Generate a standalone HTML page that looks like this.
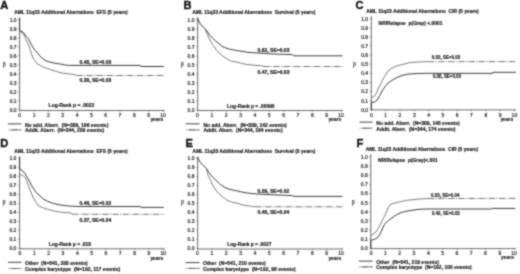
<!DOCTYPE html>
<html><head><meta charset="utf-8"><style>
html,body{margin:0;padding:0;background:#fff;width:520px;height:274px;overflow:hidden}
#w{position:absolute;left:0;top:0;width:520px;height:274px;will-change:transform}
svg{display:block}
text{white-space:pre;stroke:#222;stroke-width:0.2px;paint-order:stroke}
</style></head><body><div id="w">
<svg width="520" height="274" viewBox="0 0 520 274">
<defs><filter id="bl" x="0" y="0" width="520" height="274" filterUnits="userSpaceOnUse" color-interpolation-filters="sRGB"><feConvolveMatrix order="3" kernelMatrix="0.05 0.1 0.05 0.1 0.4 0.1 0.05 0.1 0.05" edgeMode="duplicate"/></filter></defs>
<g filter="url(#bl)"><rect width="520" height="274" fill="#fff"/>
<text transform="translate(0.20,8.50) scale(1.06,1)" font-size="10.5" font-weight="bold" fill="#111" style="stroke:#111;stroke-width:0.35px" font-family='"Liberation Sans", sans-serif'>A</text>
<text x="14.20" y="13.85" font-size="4.9" font-weight="bold" fill="#222" font-family='"Liberation Sans", sans-serif' textLength="113.50" lengthAdjust="spacingAndGlyphs">AML 11q23 Additional Aberrations  EFS (5 years)</text>
<path d="M19.6,17.7 V110.5 H164.8" fill="none" stroke="#646464" stroke-width="0.95"/>
<path d="M18.3,109.80 H19.6" stroke="#646464" stroke-width="0.8"/>
<text x="16.60" y="111.64" font-size="5.0" font-weight="normal" fill="#2a2a2a" font-family='"Liberation Sans", sans-serif' text-anchor="end">0.0</text>
<path d="M18.3,100.81 H19.6" stroke="#646464" stroke-width="0.8"/>
<text x="16.60" y="102.65" font-size="5.0" font-weight="normal" fill="#2a2a2a" font-family='"Liberation Sans", sans-serif' text-anchor="end">0.1</text>
<path d="M18.3,91.82 H19.6" stroke="#646464" stroke-width="0.8"/>
<text x="16.60" y="93.66" font-size="5.0" font-weight="normal" fill="#2a2a2a" font-family='"Liberation Sans", sans-serif' text-anchor="end">0.2</text>
<path d="M18.3,82.83 H19.6" stroke="#646464" stroke-width="0.8"/>
<text x="16.60" y="84.67" font-size="5.0" font-weight="normal" fill="#2a2a2a" font-family='"Liberation Sans", sans-serif' text-anchor="end">0.3</text>
<path d="M18.3,73.84 H19.6" stroke="#646464" stroke-width="0.8"/>
<text x="16.60" y="75.68" font-size="5.0" font-weight="normal" fill="#2a2a2a" font-family='"Liberation Sans", sans-serif' text-anchor="end">0.4</text>
<path d="M18.3,64.85 H19.6" stroke="#646464" stroke-width="0.8"/>
<text x="16.60" y="66.69" font-size="5.0" font-weight="normal" fill="#2a2a2a" font-family='"Liberation Sans", sans-serif' text-anchor="end">0.5</text>
<path d="M18.3,55.86 H19.6" stroke="#646464" stroke-width="0.8"/>
<text x="16.60" y="57.70" font-size="5.0" font-weight="normal" fill="#2a2a2a" font-family='"Liberation Sans", sans-serif' text-anchor="end">0.6</text>
<path d="M18.3,46.87 H19.6" stroke="#646464" stroke-width="0.8"/>
<text x="16.60" y="48.71" font-size="5.0" font-weight="normal" fill="#2a2a2a" font-family='"Liberation Sans", sans-serif' text-anchor="end">0.7</text>
<path d="M18.3,37.88 H19.6" stroke="#646464" stroke-width="0.8"/>
<text x="16.60" y="39.72" font-size="5.0" font-weight="normal" fill="#2a2a2a" font-family='"Liberation Sans", sans-serif' text-anchor="end">0.8</text>
<path d="M18.3,28.89 H19.6" stroke="#646464" stroke-width="0.8"/>
<text x="16.60" y="30.73" font-size="5.0" font-weight="normal" fill="#2a2a2a" font-family='"Liberation Sans", sans-serif' text-anchor="end">0.9</text>
<path d="M18.3,19.90 H19.6" stroke="#646464" stroke-width="0.8"/>
<text x="16.60" y="21.74" font-size="5.0" font-weight="normal" fill="#2a2a2a" font-family='"Liberation Sans", sans-serif' text-anchor="end">1.0</text>
<path d="M19.74,110.5 V111.7" stroke="#646464" stroke-width="0.8"/>
<text x="19.74" y="116.69" font-size="5.0" font-weight="normal" fill="#2a2a2a" font-family='"Liberation Sans", sans-serif' text-anchor="middle">0</text>
<path d="M34.06,110.5 V111.7" stroke="#646464" stroke-width="0.8"/>
<text x="34.06" y="116.69" font-size="5.0" font-weight="normal" fill="#2a2a2a" font-family='"Liberation Sans", sans-serif' text-anchor="middle">1</text>
<path d="M48.38,110.5 V111.7" stroke="#646464" stroke-width="0.8"/>
<text x="48.38" y="116.69" font-size="5.0" font-weight="normal" fill="#2a2a2a" font-family='"Liberation Sans", sans-serif' text-anchor="middle">2</text>
<path d="M62.70,110.5 V111.7" stroke="#646464" stroke-width="0.8"/>
<text x="62.70" y="116.69" font-size="5.0" font-weight="normal" fill="#2a2a2a" font-family='"Liberation Sans", sans-serif' text-anchor="middle">3</text>
<path d="M77.02,110.5 V111.7" stroke="#646464" stroke-width="0.8"/>
<text x="77.02" y="116.69" font-size="5.0" font-weight="normal" fill="#2a2a2a" font-family='"Liberation Sans", sans-serif' text-anchor="middle">4</text>
<path d="M91.34,110.5 V111.7" stroke="#646464" stroke-width="0.8"/>
<text x="91.34" y="116.69" font-size="5.0" font-weight="normal" fill="#2a2a2a" font-family='"Liberation Sans", sans-serif' text-anchor="middle">5</text>
<path d="M105.66,110.5 V111.7" stroke="#646464" stroke-width="0.8"/>
<text x="105.66" y="116.69" font-size="5.0" font-weight="normal" fill="#2a2a2a" font-family='"Liberation Sans", sans-serif' text-anchor="middle">6</text>
<path d="M119.98,110.5 V111.7" stroke="#646464" stroke-width="0.8"/>
<text x="119.98" y="116.69" font-size="5.0" font-weight="normal" fill="#2a2a2a" font-family='"Liberation Sans", sans-serif' text-anchor="middle">7</text>
<path d="M134.30,110.5 V111.7" stroke="#646464" stroke-width="0.8"/>
<text x="134.30" y="116.69" font-size="5.0" font-weight="normal" fill="#2a2a2a" font-family='"Liberation Sans", sans-serif' text-anchor="middle">8</text>
<path d="M148.62,110.5 V111.7" stroke="#646464" stroke-width="0.8"/>
<text x="148.62" y="116.69" font-size="5.0" font-weight="normal" fill="#2a2a2a" font-family='"Liberation Sans", sans-serif' text-anchor="middle">9</text>
<path d="M162.94,110.5 V111.7" stroke="#646464" stroke-width="0.8"/>
<text x="162.94" y="116.69" font-size="5.0" font-weight="normal" fill="#2a2a2a" font-family='"Liberation Sans", sans-serif' text-anchor="middle">10</text>
<text x="163.20" y="121.25" font-size="4.9" font-weight="bold" fill="#2a2a2a" font-family='"Liberation Sans", sans-serif' text-anchor="end">years</text>
<text transform="translate(2.7,66.1) scale(0.8,1)" font-size="6.3" font-weight="bold" fill="#363636" style="stroke:none" font-family='"Liberation Sans", sans-serif'>p</text>
<polyline points="19.60,17.70 19.60,30.50 20.70,30.90 22.90,32.00 24.60,33.70 26.20,36.40 28.40,38.60 30.00,41.90 31.70,45.20 33.80,48.80 36.60,52.10 39.90,55.90 43.10,59.20 46.40,60.90 49.70,62.00 54.10,63.10 59.80,63.90 64.60,64.80 68.50,65.40 140.50,65.40 141.00,66.50 163.80,66.50" fill="none" stroke="#333" stroke-width="0.95" stroke-linejoin="round"/>
<polyline points="19.60,31.50 20.70,32.00 22.40,33.10 24.00,35.30 25.70,38.60 27.30,42.40 29.00,46.30 30.60,50.60 32.20,55.90 34.40,60.30 37.70,64.20 40.90,65.80 44.20,67.40 47.50,68.50 51.90,70.20 56.30,71.30 58.80,72.30 62.70,73.10 67.50,73.75 72.30,74.20 76.20,75.00" fill="none" stroke="#5a5a5a" stroke-width="0.8" stroke-linejoin="round"/>
<polyline points="76.20,75.50 163.80,75.50" fill="none" stroke="#505050" stroke-width="0.8" stroke-dasharray="6.4,1.3,1.1,1.3"/>
<text x="79.50" y="64.09" font-size="5.0" font-weight="bold" fill="#222" font-family='"Liberation Sans", sans-serif'>0.48, SE=0.03</text>
<text x="79.50" y="82.39" font-size="5.0" font-weight="bold" fill="#222" font-family='"Liberation Sans", sans-serif'>0.38, SE=0.03</text>
<text x="48.60" y="107.39" font-size="5.0" font-weight="bold" fill="#222" font-family='"Liberation Sans", sans-serif'>Log-Rank p = .0022</text>
<path d="M8.0,123.9 H21.3" stroke="#4a4a4a" stroke-width="1.05"/>
<path d="M8.0,129.9 H21.3" stroke="#aaa" stroke-width="1.0"/>
<path d="M11.3,129.9 H21.3" stroke="#666" stroke-width="1.0" stroke-dasharray="6.7,1,1.1,0.8,1,1"/>
<text x="25.00" y="126.89" font-size="5.0" font-weight="bold" fill="#222" font-family='"Liberation Sans", sans-serif'>No add. Aberr.  (N=389, 196 events)</text>
<text x="25.00" y="132.49" font-size="5.0" font-weight="bold" fill="#222" font-family='"Liberation Sans", sans-serif'>Addit. Aberr.  (N=344, 209 events)</text>
<text transform="translate(183.40,8.90) scale(1.06,1)" font-size="10.5" font-weight="bold" fill="#111" style="stroke:#111;stroke-width:0.35px" font-family='"Liberation Sans", sans-serif'>B</text>
<text x="192.30" y="14.25" font-size="4.9" font-weight="bold" fill="#222" font-family='"Liberation Sans", sans-serif' textLength="123.10" lengthAdjust="spacingAndGlyphs">AML 11q23 Additional Aberrations  Survival (5 years)</text>
<path d="M197.7,17.7 V110.5 H343.2" fill="none" stroke="#646464" stroke-width="0.95"/>
<path d="M196.39999999999998,109.80 H197.7" stroke="#646464" stroke-width="0.8"/>
<text x="194.50" y="111.64" font-size="5.0" font-weight="normal" fill="#2a2a2a" font-family='"Liberation Sans", sans-serif' text-anchor="end">0.0</text>
<path d="M196.39999999999998,100.81 H197.7" stroke="#646464" stroke-width="0.8"/>
<text x="194.50" y="102.65" font-size="5.0" font-weight="normal" fill="#2a2a2a" font-family='"Liberation Sans", sans-serif' text-anchor="end">0.1</text>
<path d="M196.39999999999998,91.82 H197.7" stroke="#646464" stroke-width="0.8"/>
<text x="194.50" y="93.66" font-size="5.0" font-weight="normal" fill="#2a2a2a" font-family='"Liberation Sans", sans-serif' text-anchor="end">0.2</text>
<path d="M196.39999999999998,82.83 H197.7" stroke="#646464" stroke-width="0.8"/>
<text x="194.50" y="84.67" font-size="5.0" font-weight="normal" fill="#2a2a2a" font-family='"Liberation Sans", sans-serif' text-anchor="end">0.3</text>
<path d="M196.39999999999998,73.84 H197.7" stroke="#646464" stroke-width="0.8"/>
<text x="194.50" y="75.68" font-size="5.0" font-weight="normal" fill="#2a2a2a" font-family='"Liberation Sans", sans-serif' text-anchor="end">0.4</text>
<path d="M196.39999999999998,64.85 H197.7" stroke="#646464" stroke-width="0.8"/>
<text x="194.50" y="66.69" font-size="5.0" font-weight="normal" fill="#2a2a2a" font-family='"Liberation Sans", sans-serif' text-anchor="end">0.5</text>
<path d="M196.39999999999998,55.86 H197.7" stroke="#646464" stroke-width="0.8"/>
<text x="194.50" y="57.70" font-size="5.0" font-weight="normal" fill="#2a2a2a" font-family='"Liberation Sans", sans-serif' text-anchor="end">0.6</text>
<path d="M196.39999999999998,46.87 H197.7" stroke="#646464" stroke-width="0.8"/>
<text x="194.50" y="48.71" font-size="5.0" font-weight="normal" fill="#2a2a2a" font-family='"Liberation Sans", sans-serif' text-anchor="end">0.7</text>
<path d="M196.39999999999998,37.88 H197.7" stroke="#646464" stroke-width="0.8"/>
<text x="194.50" y="39.72" font-size="5.0" font-weight="normal" fill="#2a2a2a" font-family='"Liberation Sans", sans-serif' text-anchor="end">0.8</text>
<path d="M196.39999999999998,28.89 H197.7" stroke="#646464" stroke-width="0.8"/>
<text x="194.50" y="30.73" font-size="5.0" font-weight="normal" fill="#2a2a2a" font-family='"Liberation Sans", sans-serif' text-anchor="end">0.9</text>
<path d="M196.39999999999998,19.90 H197.7" stroke="#646464" stroke-width="0.8"/>
<text x="194.50" y="21.74" font-size="5.0" font-weight="normal" fill="#2a2a2a" font-family='"Liberation Sans", sans-serif' text-anchor="end">1.0</text>
<path d="M197.50,110.5 V111.7" stroke="#646464" stroke-width="0.8"/>
<text x="197.50" y="116.79" font-size="5.0" font-weight="normal" fill="#2a2a2a" font-family='"Liberation Sans", sans-serif' text-anchor="middle">0</text>
<path d="M211.85,110.5 V111.7" stroke="#646464" stroke-width="0.8"/>
<text x="211.85" y="116.79" font-size="5.0" font-weight="normal" fill="#2a2a2a" font-family='"Liberation Sans", sans-serif' text-anchor="middle">1</text>
<path d="M226.20,110.5 V111.7" stroke="#646464" stroke-width="0.8"/>
<text x="226.20" y="116.79" font-size="5.0" font-weight="normal" fill="#2a2a2a" font-family='"Liberation Sans", sans-serif' text-anchor="middle">2</text>
<path d="M240.55,110.5 V111.7" stroke="#646464" stroke-width="0.8"/>
<text x="240.55" y="116.79" font-size="5.0" font-weight="normal" fill="#2a2a2a" font-family='"Liberation Sans", sans-serif' text-anchor="middle">3</text>
<path d="M254.90,110.5 V111.7" stroke="#646464" stroke-width="0.8"/>
<text x="254.90" y="116.79" font-size="5.0" font-weight="normal" fill="#2a2a2a" font-family='"Liberation Sans", sans-serif' text-anchor="middle">4</text>
<path d="M269.25,110.5 V111.7" stroke="#646464" stroke-width="0.8"/>
<text x="269.25" y="116.79" font-size="5.0" font-weight="normal" fill="#2a2a2a" font-family='"Liberation Sans", sans-serif' text-anchor="middle">5</text>
<path d="M283.60,110.5 V111.7" stroke="#646464" stroke-width="0.8"/>
<text x="283.60" y="116.79" font-size="5.0" font-weight="normal" fill="#2a2a2a" font-family='"Liberation Sans", sans-serif' text-anchor="middle">6</text>
<path d="M297.95,110.5 V111.7" stroke="#646464" stroke-width="0.8"/>
<text x="297.95" y="116.79" font-size="5.0" font-weight="normal" fill="#2a2a2a" font-family='"Liberation Sans", sans-serif' text-anchor="middle">7</text>
<path d="M312.30,110.5 V111.7" stroke="#646464" stroke-width="0.8"/>
<text x="312.30" y="116.79" font-size="5.0" font-weight="normal" fill="#2a2a2a" font-family='"Liberation Sans", sans-serif' text-anchor="middle">8</text>
<path d="M326.65,110.5 V111.7" stroke="#646464" stroke-width="0.8"/>
<text x="326.65" y="116.79" font-size="5.0" font-weight="normal" fill="#2a2a2a" font-family='"Liberation Sans", sans-serif' text-anchor="middle">9</text>
<path d="M341.00,110.5 V111.7" stroke="#646464" stroke-width="0.8"/>
<text x="341.00" y="116.79" font-size="5.0" font-weight="normal" fill="#2a2a2a" font-family='"Liberation Sans", sans-serif' text-anchor="middle">10</text>
<text x="341.20" y="121.05" font-size="4.9" font-weight="bold" fill="#2a2a2a" font-family='"Liberation Sans", sans-serif' text-anchor="end">years</text>
<text transform="translate(180.8,65.9) scale(0.8,1)" font-size="6.3" font-weight="bold" fill="#363636" style="stroke:none" font-family='"Liberation Sans", sans-serif'>p</text>
<polyline points="197.70,17.70 197.70,18.30 198.80,21.00 200.50,24.30 202.10,26.00 204.30,27.60 205.90,29.80 207.60,32.00 209.80,35.30 212.50,38.00 215.30,40.70 218.00,42.90 221.50,45.90 225.30,47.80 229.20,49.10 235.60,50.30 242.00,51.40 248.00,52.30 258.20,53.00 268.40,53.70 278.70,54.20 292.50,54.50 293.90,55.80 342.50,55.80" fill="none" stroke="#333" stroke-width="0.95" stroke-linejoin="round"/>
<polyline points="205.40,29.80 207.00,33.60 208.70,37.40 210.90,41.80 212.60,44.60 215.80,49.10 218.90,52.90 222.80,56.10 226.60,58.60 231.10,61.20 235.60,61.80 240.70,63.10 245.80,64.40 254.10,65.20 260.30,65.70 263.30,66.00" fill="none" stroke="#5a5a5a" stroke-width="0.8" stroke-linejoin="round"/>
<polyline points="263.30,66.50 342.50,66.50" fill="none" stroke="#505050" stroke-width="0.8" stroke-dasharray="6.4,1.3,1.1,1.3"/>
<text x="257.60" y="52.49" font-size="5.0" font-weight="bold" fill="#222" font-family='"Liberation Sans", sans-serif'>0.62, SE=0.03</text>
<text x="257.60" y="74.19" font-size="5.0" font-weight="bold" fill="#222" font-family='"Liberation Sans", sans-serif'>0.47, SE=0.03</text>
<text x="227.00" y="107.69" font-size="5.0" font-weight="bold" fill="#222" font-family='"Liberation Sans", sans-serif' textLength="47.60" lengthAdjust="spacingAndGlyphs">Log-Rank p = .00090</text>
<path d="M185.7,123.8 H199.5" stroke="#4a4a4a" stroke-width="1.05"/>
<path d="M185.7,129.9 H199.5" stroke="#aaa" stroke-width="1.0"/>
<path d="M189.0,129.9 H199.5" stroke="#666" stroke-width="1.0" stroke-dasharray="6.7,1,1.1,0.8,1,1"/>
<text x="203.40" y="126.79" font-size="5.0" font-weight="bold" fill="#222" font-family='"Liberation Sans", sans-serif'>No add. Aberr.  (N=389, 142 events)</text>
<text x="203.40" y="132.29" font-size="5.0" font-weight="bold" fill="#222" font-family='"Liberation Sans", sans-serif'>Addit. Aberr.  (N=344, 164 events)</text>
<text transform="translate(355.40,9.20) scale(1.06,1)" font-size="10.5" font-weight="bold" fill="#111" style="stroke:#111;stroke-width:0.35px" font-family='"Liberation Sans", sans-serif'>C</text>
<text x="366.20" y="12.65" font-size="4.9" font-weight="bold" fill="#222" font-family='"Liberation Sans", sans-serif' textLength="112.50" lengthAdjust="spacingAndGlyphs">AML 11q23 Additional Aberrations  CIR (5 years)</text>
<path d="M371.3,16.1 V109.9 H516.0" fill="none" stroke="#646464" stroke-width="0.95"/>
<path d="M370.0,109.80 H371.3" stroke="#646464" stroke-width="0.8"/>
<text x="368.10" y="111.64" font-size="5.0" font-weight="normal" fill="#2a2a2a" font-family='"Liberation Sans", sans-serif' text-anchor="end">0.0</text>
<path d="M370.0,100.69 H371.3" stroke="#646464" stroke-width="0.8"/>
<text x="368.10" y="102.53" font-size="5.0" font-weight="normal" fill="#2a2a2a" font-family='"Liberation Sans", sans-serif' text-anchor="end">0.1</text>
<path d="M370.0,91.58 H371.3" stroke="#646464" stroke-width="0.8"/>
<text x="368.10" y="93.42" font-size="5.0" font-weight="normal" fill="#2a2a2a" font-family='"Liberation Sans", sans-serif' text-anchor="end">0.2</text>
<path d="M370.0,82.47 H371.3" stroke="#646464" stroke-width="0.8"/>
<text x="368.10" y="84.31" font-size="5.0" font-weight="normal" fill="#2a2a2a" font-family='"Liberation Sans", sans-serif' text-anchor="end">0.3</text>
<path d="M370.0,73.36 H371.3" stroke="#646464" stroke-width="0.8"/>
<text x="368.10" y="75.20" font-size="5.0" font-weight="normal" fill="#2a2a2a" font-family='"Liberation Sans", sans-serif' text-anchor="end">0.4</text>
<path d="M370.0,64.25 H371.3" stroke="#646464" stroke-width="0.8"/>
<text x="368.10" y="66.09" font-size="5.0" font-weight="normal" fill="#2a2a2a" font-family='"Liberation Sans", sans-serif' text-anchor="end">0.5</text>
<path d="M370.0,55.14 H371.3" stroke="#646464" stroke-width="0.8"/>
<text x="368.10" y="56.98" font-size="5.0" font-weight="normal" fill="#2a2a2a" font-family='"Liberation Sans", sans-serif' text-anchor="end">0.6</text>
<path d="M370.0,46.03 H371.3" stroke="#646464" stroke-width="0.8"/>
<text x="368.10" y="47.87" font-size="5.0" font-weight="normal" fill="#2a2a2a" font-family='"Liberation Sans", sans-serif' text-anchor="end">0.7</text>
<path d="M370.0,36.92 H371.3" stroke="#646464" stroke-width="0.8"/>
<text x="368.10" y="38.76" font-size="5.0" font-weight="normal" fill="#2a2a2a" font-family='"Liberation Sans", sans-serif' text-anchor="end">0.8</text>
<path d="M370.0,27.81 H371.3" stroke="#646464" stroke-width="0.8"/>
<text x="368.10" y="29.65" font-size="5.0" font-weight="normal" fill="#2a2a2a" font-family='"Liberation Sans", sans-serif' text-anchor="end">0.9</text>
<path d="M370.0,18.70 H371.3" stroke="#646464" stroke-width="0.8"/>
<text x="368.10" y="20.54" font-size="5.0" font-weight="normal" fill="#2a2a2a" font-family='"Liberation Sans", sans-serif' text-anchor="end">1.0</text>
<path d="M371.40,109.9 V111.10000000000001" stroke="#646464" stroke-width="0.8"/>
<text x="371.40" y="117.09" font-size="5.0" font-weight="normal" fill="#2a2a2a" font-family='"Liberation Sans", sans-serif' text-anchor="middle">0</text>
<path d="M385.70,109.9 V111.10000000000001" stroke="#646464" stroke-width="0.8"/>
<text x="385.70" y="117.09" font-size="5.0" font-weight="normal" fill="#2a2a2a" font-family='"Liberation Sans", sans-serif' text-anchor="middle">1</text>
<path d="M400.00,109.9 V111.10000000000001" stroke="#646464" stroke-width="0.8"/>
<text x="400.00" y="117.09" font-size="5.0" font-weight="normal" fill="#2a2a2a" font-family='"Liberation Sans", sans-serif' text-anchor="middle">2</text>
<path d="M414.30,109.9 V111.10000000000001" stroke="#646464" stroke-width="0.8"/>
<text x="414.30" y="117.09" font-size="5.0" font-weight="normal" fill="#2a2a2a" font-family='"Liberation Sans", sans-serif' text-anchor="middle">3</text>
<path d="M428.60,109.9 V111.10000000000001" stroke="#646464" stroke-width="0.8"/>
<text x="428.60" y="117.09" font-size="5.0" font-weight="normal" fill="#2a2a2a" font-family='"Liberation Sans", sans-serif' text-anchor="middle">4</text>
<path d="M442.90,109.9 V111.10000000000001" stroke="#646464" stroke-width="0.8"/>
<text x="442.90" y="117.09" font-size="5.0" font-weight="normal" fill="#2a2a2a" font-family='"Liberation Sans", sans-serif' text-anchor="middle">5</text>
<path d="M457.20,109.9 V111.10000000000001" stroke="#646464" stroke-width="0.8"/>
<text x="457.20" y="117.09" font-size="5.0" font-weight="normal" fill="#2a2a2a" font-family='"Liberation Sans", sans-serif' text-anchor="middle">6</text>
<path d="M471.50,109.9 V111.10000000000001" stroke="#646464" stroke-width="0.8"/>
<text x="471.50" y="117.09" font-size="5.0" font-weight="normal" fill="#2a2a2a" font-family='"Liberation Sans", sans-serif' text-anchor="middle">7</text>
<path d="M485.80,109.9 V111.10000000000001" stroke="#646464" stroke-width="0.8"/>
<text x="485.80" y="117.09" font-size="5.0" font-weight="normal" fill="#2a2a2a" font-family='"Liberation Sans", sans-serif' text-anchor="middle">8</text>
<path d="M500.10,109.9 V111.10000000000001" stroke="#646464" stroke-width="0.8"/>
<text x="500.10" y="117.09" font-size="5.0" font-weight="normal" fill="#2a2a2a" font-family='"Liberation Sans", sans-serif' text-anchor="middle">9</text>
<path d="M514.40,109.9 V111.10000000000001" stroke="#646464" stroke-width="0.8"/>
<text x="514.40" y="117.09" font-size="5.0" font-weight="normal" fill="#2a2a2a" font-family='"Liberation Sans", sans-serif' text-anchor="middle">10</text>
<text x="513.20" y="120.95" font-size="4.9" font-weight="bold" fill="#2a2a2a" font-family='"Liberation Sans", sans-serif' text-anchor="end">years</text>
<text transform="translate(352.9,65.8) scale(0.8,1)" font-size="6.3" font-weight="bold" fill="#363636" style="stroke:none" font-family='"Liberation Sans", sans-serif'>p</text>
<polyline points="371.30,110.00 371.30,102.30 374.00,102.30 377.00,100.20 380.00,95.20 382.00,91.20 384.00,88.10 386.00,85.40 388.00,83.10 391.00,80.90 394.10,79.10 397.00,77.50 400.10,76.10 404.00,75.00 408.20,74.10 418.20,73.50 428.00,73.30 492.60,73.40 492.90,72.30 515.80,72.30" fill="none" stroke="#333" stroke-width="0.95" stroke-linejoin="round"/>
<polyline points="371.30,97.50 374.00,96.50 376.00,94.00 378.00,89.10 380.50,84.00 383.00,79.10 385.50,75.00 388.00,71.10 391.00,68.80 394.10,67.00 398.00,65.60 402.10,64.60 406.00,63.50 410.20,62.60 418.20,62.00 428.00,61.60" fill="none" stroke="#5a5a5a" stroke-width="0.8" stroke-linejoin="round"/>
<polyline points="428.00,61.70 515.80,61.60" fill="none" stroke="#505050" stroke-width="0.8" stroke-dasharray="6.4,1.3,1.1,1.3"/>
<text x="431.80" y="58.90" font-size="5.3" font-weight="bold" fill="#222" font-family='"Liberation Sans", sans-serif' textLength="28.40" lengthAdjust="spacingAndGlyphs">0.52, SE=0.03</text>
<text x="432.90" y="78.10" font-size="5.3" font-weight="bold" fill="#222" font-family='"Liberation Sans", sans-serif' textLength="28.10" lengthAdjust="spacingAndGlyphs">0.38, SE=0.03</text>
<text x="378.60" y="24.69" font-size="5.0" font-weight="bold" fill="#222" font-family='"Liberation Sans", sans-serif' textLength="63.80" lengthAdjust="spacingAndGlyphs">NR/Relapse  p(Gray) &lt;.0001</text>
<path d="M359.6,122.1 H372.6" stroke="#4a4a4a" stroke-width="1.05"/>
<path d="M359.6,128.2 H372.6" stroke="#aaa" stroke-width="1.0"/>
<path d="M362.90000000000003,128.2 H372.6" stroke="#666" stroke-width="1.0" stroke-dasharray="6.7,1,1.1,0.8,1,1"/>
<text x="376.30" y="124.89" font-size="5.0" font-weight="bold" fill="#222" font-family='"Liberation Sans", sans-serif'>No add. Aberr.  (N=389, 145 events)</text>
<text x="376.30" y="130.99" font-size="5.0" font-weight="bold" fill="#222" font-family='"Liberation Sans", sans-serif'>Addit. Aberr.  (N=344, 174 events)</text>
<text transform="translate(0.20,147.20) scale(1.06,1)" font-size="10.5" font-weight="bold" fill="#111" style="stroke:#111;stroke-width:0.35px" font-family='"Liberation Sans", sans-serif'>D</text>
<text x="14.20" y="153.15" font-size="4.9" font-weight="bold" fill="#222" font-family='"Liberation Sans", sans-serif' textLength="113.50" lengthAdjust="spacingAndGlyphs">AML 11q23 Additional Aberrations  EFS (5 years)</text>
<path d="M19.6,156.6 V248.8 H164.8" fill="none" stroke="#646464" stroke-width="0.95"/>
<path d="M18.3,248.40 H19.6" stroke="#646464" stroke-width="0.8"/>
<text x="16.40" y="250.24" font-size="5.0" font-weight="normal" fill="#2a2a2a" font-family='"Liberation Sans", sans-serif' text-anchor="end">0.0</text>
<path d="M18.3,239.41 H19.6" stroke="#646464" stroke-width="0.8"/>
<text x="16.40" y="241.25" font-size="5.0" font-weight="normal" fill="#2a2a2a" font-family='"Liberation Sans", sans-serif' text-anchor="end">0.1</text>
<path d="M18.3,230.42 H19.6" stroke="#646464" stroke-width="0.8"/>
<text x="16.40" y="232.26" font-size="5.0" font-weight="normal" fill="#2a2a2a" font-family='"Liberation Sans", sans-serif' text-anchor="end">0.2</text>
<path d="M18.3,221.43 H19.6" stroke="#646464" stroke-width="0.8"/>
<text x="16.40" y="223.27" font-size="5.0" font-weight="normal" fill="#2a2a2a" font-family='"Liberation Sans", sans-serif' text-anchor="end">0.3</text>
<path d="M18.3,212.44 H19.6" stroke="#646464" stroke-width="0.8"/>
<text x="16.40" y="214.28" font-size="5.0" font-weight="normal" fill="#2a2a2a" font-family='"Liberation Sans", sans-serif' text-anchor="end">0.4</text>
<path d="M18.3,203.45 H19.6" stroke="#646464" stroke-width="0.8"/>
<text x="16.40" y="205.29" font-size="5.0" font-weight="normal" fill="#2a2a2a" font-family='"Liberation Sans", sans-serif' text-anchor="end">0.5</text>
<path d="M18.3,194.46 H19.6" stroke="#646464" stroke-width="0.8"/>
<text x="16.40" y="196.30" font-size="5.0" font-weight="normal" fill="#2a2a2a" font-family='"Liberation Sans", sans-serif' text-anchor="end">0.6</text>
<path d="M18.3,185.47 H19.6" stroke="#646464" stroke-width="0.8"/>
<text x="16.40" y="187.31" font-size="5.0" font-weight="normal" fill="#2a2a2a" font-family='"Liberation Sans", sans-serif' text-anchor="end">0.7</text>
<path d="M18.3,176.48 H19.6" stroke="#646464" stroke-width="0.8"/>
<text x="16.40" y="178.32" font-size="5.0" font-weight="normal" fill="#2a2a2a" font-family='"Liberation Sans", sans-serif' text-anchor="end">0.8</text>
<path d="M18.3,167.49 H19.6" stroke="#646464" stroke-width="0.8"/>
<text x="16.40" y="169.33" font-size="5.0" font-weight="normal" fill="#2a2a2a" font-family='"Liberation Sans", sans-serif' text-anchor="end">0.9</text>
<path d="M18.3,158.50 H19.6" stroke="#646464" stroke-width="0.8"/>
<text x="16.40" y="160.34" font-size="5.0" font-weight="normal" fill="#2a2a2a" font-family='"Liberation Sans", sans-serif' text-anchor="end">1.0</text>
<path d="M20.00,248.8 V250.0" stroke="#646464" stroke-width="0.8"/>
<text x="20.00" y="255.19" font-size="5.0" font-weight="normal" fill="#2a2a2a" font-family='"Liberation Sans", sans-serif' text-anchor="middle">0</text>
<path d="M34.32,248.8 V250.0" stroke="#646464" stroke-width="0.8"/>
<text x="34.32" y="255.19" font-size="5.0" font-weight="normal" fill="#2a2a2a" font-family='"Liberation Sans", sans-serif' text-anchor="middle">1</text>
<path d="M48.64,248.8 V250.0" stroke="#646464" stroke-width="0.8"/>
<text x="48.64" y="255.19" font-size="5.0" font-weight="normal" fill="#2a2a2a" font-family='"Liberation Sans", sans-serif' text-anchor="middle">2</text>
<path d="M62.96,248.8 V250.0" stroke="#646464" stroke-width="0.8"/>
<text x="62.96" y="255.19" font-size="5.0" font-weight="normal" fill="#2a2a2a" font-family='"Liberation Sans", sans-serif' text-anchor="middle">3</text>
<path d="M77.28,248.8 V250.0" stroke="#646464" stroke-width="0.8"/>
<text x="77.28" y="255.19" font-size="5.0" font-weight="normal" fill="#2a2a2a" font-family='"Liberation Sans", sans-serif' text-anchor="middle">4</text>
<path d="M91.60,248.8 V250.0" stroke="#646464" stroke-width="0.8"/>
<text x="91.60" y="255.19" font-size="5.0" font-weight="normal" fill="#2a2a2a" font-family='"Liberation Sans", sans-serif' text-anchor="middle">5</text>
<path d="M105.92,248.8 V250.0" stroke="#646464" stroke-width="0.8"/>
<text x="105.92" y="255.19" font-size="5.0" font-weight="normal" fill="#2a2a2a" font-family='"Liberation Sans", sans-serif' text-anchor="middle">6</text>
<path d="M120.24,248.8 V250.0" stroke="#646464" stroke-width="0.8"/>
<text x="120.24" y="255.19" font-size="5.0" font-weight="normal" fill="#2a2a2a" font-family='"Liberation Sans", sans-serif' text-anchor="middle">7</text>
<path d="M134.56,248.8 V250.0" stroke="#646464" stroke-width="0.8"/>
<text x="134.56" y="255.19" font-size="5.0" font-weight="normal" fill="#2a2a2a" font-family='"Liberation Sans", sans-serif' text-anchor="middle">8</text>
<path d="M148.88,248.8 V250.0" stroke="#646464" stroke-width="0.8"/>
<text x="148.88" y="255.19" font-size="5.0" font-weight="normal" fill="#2a2a2a" font-family='"Liberation Sans", sans-serif' text-anchor="middle">9</text>
<path d="M163.20,248.8 V250.0" stroke="#646464" stroke-width="0.8"/>
<text x="163.20" y="255.19" font-size="5.0" font-weight="normal" fill="#2a2a2a" font-family='"Liberation Sans", sans-serif' text-anchor="middle">10</text>
<text x="163.20" y="260.15" font-size="4.9" font-weight="bold" fill="#2a2a2a" font-family='"Liberation Sans", sans-serif' text-anchor="end">years</text>
<text transform="translate(2.5,204.3) scale(0.8,1)" font-size="6.3" font-weight="bold" fill="#363636" style="stroke:none" font-family='"Liberation Sans", sans-serif'>p</text>
<polyline points="19.60,156.60 19.60,169.00 20.70,169.40 22.90,171.00 25.10,173.80 27.30,177.60 29.50,181.40 31.70,185.80 33.90,189.10 35.70,192.00 39.00,195.00 42.80,198.70 47.70,201.40 53.20,203.40 59.80,204.90 66.60,205.80 73.10,206.30 80.00,206.50 140.50,206.50 141.00,207.40 163.80,207.40" fill="none" stroke="#333" stroke-width="0.95" stroke-linejoin="round"/>
<polyline points="19.60,174.50 20.70,174.90 22.90,175.40 25.10,177.60 26.80,180.90 28.40,185.30 30.00,190.20 31.70,194.00 33.50,198.20 36.20,202.50 38.40,205.80 42.20,207.50 47.70,209.30 53.20,210.80 58.70,211.80 64.20,212.60 70.90,212.80 72.00,214.30" fill="none" stroke="#5a5a5a" stroke-width="0.8" stroke-linejoin="round"/>
<polyline points="72.00,214.20 163.80,214.30" fill="none" stroke="#505050" stroke-width="0.8" stroke-dasharray="6.4,1.3,1.1,1.3"/>
<text x="79.50" y="205.19" font-size="5.0" font-weight="bold" fill="#222" font-family='"Liberation Sans", sans-serif'>0.46, SE=0.02</text>
<text x="79.50" y="222.29" font-size="5.0" font-weight="bold" fill="#222" font-family='"Liberation Sans", sans-serif'>0.37, SE=0.04</text>
<text x="48.80" y="245.79" font-size="5.0" font-weight="bold" fill="#222" font-family='"Liberation Sans", sans-serif' textLength="42.20" lengthAdjust="spacingAndGlyphs">Log-Rank p = .018</text>
<path d="M8.0,262.3 H21.4" stroke="#4a4a4a" stroke-width="1.05"/>
<path d="M8.0,268.5 H21.4" stroke="#aaa" stroke-width="1.0"/>
<path d="M11.3,268.5 H21.4" stroke="#666" stroke-width="1.0" stroke-dasharray="6.7,1,1.1,0.8,1,1"/>
<text x="25.00" y="265.09" font-size="5.0" font-weight="bold" fill="#222" font-family='"Liberation Sans", sans-serif'>Other  (N=541, 288 events)</text>
<text x="25.00" y="270.69" font-size="5.0" font-weight="bold" fill="#222" font-family='"Liberation Sans", sans-serif'>Complex karyotype  (N=192, 117 events)</text>
<text transform="translate(185.40,146.90) scale(1.06,1)" font-size="10.5" font-weight="bold" fill="#111" style="stroke:#111;stroke-width:0.35px" font-family='"Liberation Sans", sans-serif'>E</text>
<text x="192.60" y="153.25" font-size="4.9" font-weight="bold" fill="#222" font-family='"Liberation Sans", sans-serif' textLength="122.80" lengthAdjust="spacingAndGlyphs">AML 11q23 Additional Aberrations  Survival (5 years)</text>
<path d="M197.7,156.8 V249.0 H343.2" fill="none" stroke="#646464" stroke-width="0.95"/>
<path d="M196.39999999999998,248.20 H197.7" stroke="#646464" stroke-width="0.8"/>
<text x="194.50" y="250.04" font-size="5.0" font-weight="normal" fill="#2a2a2a" font-family='"Liberation Sans", sans-serif' text-anchor="end">0.0</text>
<path d="M196.39999999999998,239.23 H197.7" stroke="#646464" stroke-width="0.8"/>
<text x="194.50" y="241.07" font-size="5.0" font-weight="normal" fill="#2a2a2a" font-family='"Liberation Sans", sans-serif' text-anchor="end">0.1</text>
<path d="M196.39999999999998,230.26 H197.7" stroke="#646464" stroke-width="0.8"/>
<text x="194.50" y="232.10" font-size="5.0" font-weight="normal" fill="#2a2a2a" font-family='"Liberation Sans", sans-serif' text-anchor="end">0.2</text>
<path d="M196.39999999999998,221.29 H197.7" stroke="#646464" stroke-width="0.8"/>
<text x="194.50" y="223.13" font-size="5.0" font-weight="normal" fill="#2a2a2a" font-family='"Liberation Sans", sans-serif' text-anchor="end">0.3</text>
<path d="M196.39999999999998,212.32 H197.7" stroke="#646464" stroke-width="0.8"/>
<text x="194.50" y="214.16" font-size="5.0" font-weight="normal" fill="#2a2a2a" font-family='"Liberation Sans", sans-serif' text-anchor="end">0.4</text>
<path d="M196.39999999999998,203.35 H197.7" stroke="#646464" stroke-width="0.8"/>
<text x="194.50" y="205.19" font-size="5.0" font-weight="normal" fill="#2a2a2a" font-family='"Liberation Sans", sans-serif' text-anchor="end">0.5</text>
<path d="M196.39999999999998,194.38 H197.7" stroke="#646464" stroke-width="0.8"/>
<text x="194.50" y="196.22" font-size="5.0" font-weight="normal" fill="#2a2a2a" font-family='"Liberation Sans", sans-serif' text-anchor="end">0.6</text>
<path d="M196.39999999999998,185.41 H197.7" stroke="#646464" stroke-width="0.8"/>
<text x="194.50" y="187.25" font-size="5.0" font-weight="normal" fill="#2a2a2a" font-family='"Liberation Sans", sans-serif' text-anchor="end">0.7</text>
<path d="M196.39999999999998,176.44 H197.7" stroke="#646464" stroke-width="0.8"/>
<text x="194.50" y="178.28" font-size="5.0" font-weight="normal" fill="#2a2a2a" font-family='"Liberation Sans", sans-serif' text-anchor="end">0.8</text>
<path d="M196.39999999999998,167.47 H197.7" stroke="#646464" stroke-width="0.8"/>
<text x="194.50" y="169.31" font-size="5.0" font-weight="normal" fill="#2a2a2a" font-family='"Liberation Sans", sans-serif' text-anchor="end">0.9</text>
<path d="M196.39999999999998,158.50 H197.7" stroke="#646464" stroke-width="0.8"/>
<text x="194.50" y="160.34" font-size="5.0" font-weight="normal" fill="#2a2a2a" font-family='"Liberation Sans", sans-serif' text-anchor="end">1.0</text>
<path d="M197.50,249.0 V250.2" stroke="#646464" stroke-width="0.8"/>
<text x="197.50" y="255.49" font-size="5.0" font-weight="normal" fill="#2a2a2a" font-family='"Liberation Sans", sans-serif' text-anchor="middle">0</text>
<path d="M211.85,249.0 V250.2" stroke="#646464" stroke-width="0.8"/>
<text x="211.85" y="255.49" font-size="5.0" font-weight="normal" fill="#2a2a2a" font-family='"Liberation Sans", sans-serif' text-anchor="middle">1</text>
<path d="M226.20,249.0 V250.2" stroke="#646464" stroke-width="0.8"/>
<text x="226.20" y="255.49" font-size="5.0" font-weight="normal" fill="#2a2a2a" font-family='"Liberation Sans", sans-serif' text-anchor="middle">2</text>
<path d="M240.55,249.0 V250.2" stroke="#646464" stroke-width="0.8"/>
<text x="240.55" y="255.49" font-size="5.0" font-weight="normal" fill="#2a2a2a" font-family='"Liberation Sans", sans-serif' text-anchor="middle">3</text>
<path d="M254.90,249.0 V250.2" stroke="#646464" stroke-width="0.8"/>
<text x="254.90" y="255.49" font-size="5.0" font-weight="normal" fill="#2a2a2a" font-family='"Liberation Sans", sans-serif' text-anchor="middle">4</text>
<path d="M269.25,249.0 V250.2" stroke="#646464" stroke-width="0.8"/>
<text x="269.25" y="255.49" font-size="5.0" font-weight="normal" fill="#2a2a2a" font-family='"Liberation Sans", sans-serif' text-anchor="middle">5</text>
<path d="M283.60,249.0 V250.2" stroke="#646464" stroke-width="0.8"/>
<text x="283.60" y="255.49" font-size="5.0" font-weight="normal" fill="#2a2a2a" font-family='"Liberation Sans", sans-serif' text-anchor="middle">6</text>
<path d="M297.95,249.0 V250.2" stroke="#646464" stroke-width="0.8"/>
<text x="297.95" y="255.49" font-size="5.0" font-weight="normal" fill="#2a2a2a" font-family='"Liberation Sans", sans-serif' text-anchor="middle">7</text>
<path d="M312.30,249.0 V250.2" stroke="#646464" stroke-width="0.8"/>
<text x="312.30" y="255.49" font-size="5.0" font-weight="normal" fill="#2a2a2a" font-family='"Liberation Sans", sans-serif' text-anchor="middle">8</text>
<path d="M326.65,249.0 V250.2" stroke="#646464" stroke-width="0.8"/>
<text x="326.65" y="255.49" font-size="5.0" font-weight="normal" fill="#2a2a2a" font-family='"Liberation Sans", sans-serif' text-anchor="middle">9</text>
<path d="M341.00,249.0 V250.2" stroke="#646464" stroke-width="0.8"/>
<text x="341.00" y="255.49" font-size="5.0" font-weight="normal" fill="#2a2a2a" font-family='"Liberation Sans", sans-serif' text-anchor="middle">10</text>
<text x="341.20" y="259.85" font-size="4.9" font-weight="bold" fill="#2a2a2a" font-family='"Liberation Sans", sans-serif' text-anchor="end">years</text>
<text transform="translate(180.9,204.3) scale(0.8,1)" font-size="6.3" font-weight="bold" fill="#363636" style="stroke:none" font-family='"Liberation Sans", sans-serif'>p</text>
<polyline points="197.70,156.80 197.70,157.20 198.80,159.90 200.50,162.70 202.70,164.90 204.90,166.80 206.50,168.70 208.70,172.00 211.40,175.80 214.20,178.50 216.90,181.10 220.20,184.40 224.10,187.10 229.20,189.30 235.60,190.60 243.20,192.30 250.90,193.50 260.00,194.20 275.00,194.90 292.30,195.60 294.00,196.40 342.50,196.40" fill="none" stroke="#333" stroke-width="0.95" stroke-linejoin="round"/>
<polyline points="206.50,168.70 207.00,171.40 208.10,175.30 209.80,178.50 211.40,181.80 213.20,186.50 217.00,191.60 221.50,196.10 226.60,199.90 231.70,202.10 238.10,203.40 244.50,205.40 252.20,206.30 255.10,206.70" fill="none" stroke="#5a5a5a" stroke-width="0.8" stroke-linejoin="round"/>
<polyline points="255.10,206.80 342.50,206.80" fill="none" stroke="#505050" stroke-width="0.8" stroke-dasharray="6.4,1.3,1.1,1.3"/>
<text x="257.50" y="193.19" font-size="5.0" font-weight="bold" fill="#222" font-family='"Liberation Sans", sans-serif'>0.59, SE=0.02</text>
<text x="257.50" y="214.09" font-size="5.0" font-weight="bold" fill="#222" font-family='"Liberation Sans", sans-serif'>0.45, SE=0.04</text>
<text x="227.20" y="245.79" font-size="5.0" font-weight="bold" fill="#222" font-family='"Liberation Sans", sans-serif' textLength="44.20" lengthAdjust="spacingAndGlyphs">Log-Rank p = .0027</text>
<path d="M185.6,262.6 H199.6" stroke="#4a4a4a" stroke-width="1.05"/>
<path d="M185.6,268.4 H199.6" stroke="#aaa" stroke-width="1.0"/>
<path d="M188.9,268.4 H199.6" stroke="#666" stroke-width="1.0" stroke-dasharray="6.7,1,1.1,0.8,1,1"/>
<text x="203.00" y="265.09" font-size="5.0" font-weight="bold" fill="#222" font-family='"Liberation Sans", sans-serif'>Other  (N=541, 210 events)</text>
<text x="203.00" y="271.19" font-size="5.0" font-weight="bold" fill="#222" font-family='"Liberation Sans", sans-serif'>Complex karyotype  (N=192, 96 events)</text>
<text transform="translate(356.60,146.90) scale(1.06,1)" font-size="10.5" font-weight="bold" fill="#111" style="stroke:#111;stroke-width:0.35px" font-family='"Liberation Sans", sans-serif'>F</text>
<text x="365.70" y="151.25" font-size="4.9" font-weight="bold" fill="#222" font-family='"Liberation Sans", sans-serif' textLength="112.50" lengthAdjust="spacingAndGlyphs">AML 11q23 Additional Aberrations  CIR (5 years)</text>
<path d="M370.8,154.1 V248.6 H515.9" fill="none" stroke="#646464" stroke-width="0.95"/>
<path d="M369.5,248.40 H370.8" stroke="#646464" stroke-width="0.8"/>
<text x="367.80" y="250.24" font-size="5.0" font-weight="normal" fill="#2a2a2a" font-family='"Liberation Sans", sans-serif' text-anchor="end">0.0</text>
<path d="M369.5,239.26 H370.8" stroke="#646464" stroke-width="0.8"/>
<text x="367.80" y="241.10" font-size="5.0" font-weight="normal" fill="#2a2a2a" font-family='"Liberation Sans", sans-serif' text-anchor="end">0.1</text>
<path d="M369.5,230.12 H370.8" stroke="#646464" stroke-width="0.8"/>
<text x="367.80" y="231.96" font-size="5.0" font-weight="normal" fill="#2a2a2a" font-family='"Liberation Sans", sans-serif' text-anchor="end">0.2</text>
<path d="M369.5,220.98 H370.8" stroke="#646464" stroke-width="0.8"/>
<text x="367.80" y="222.82" font-size="5.0" font-weight="normal" fill="#2a2a2a" font-family='"Liberation Sans", sans-serif' text-anchor="end">0.3</text>
<path d="M369.5,211.84 H370.8" stroke="#646464" stroke-width="0.8"/>
<text x="367.80" y="213.68" font-size="5.0" font-weight="normal" fill="#2a2a2a" font-family='"Liberation Sans", sans-serif' text-anchor="end">0.4</text>
<path d="M369.5,202.70 H370.8" stroke="#646464" stroke-width="0.8"/>
<text x="367.80" y="204.54" font-size="5.0" font-weight="normal" fill="#2a2a2a" font-family='"Liberation Sans", sans-serif' text-anchor="end">0.5</text>
<path d="M369.5,193.56 H370.8" stroke="#646464" stroke-width="0.8"/>
<text x="367.80" y="195.40" font-size="5.0" font-weight="normal" fill="#2a2a2a" font-family='"Liberation Sans", sans-serif' text-anchor="end">0.6</text>
<path d="M369.5,184.42 H370.8" stroke="#646464" stroke-width="0.8"/>
<text x="367.80" y="186.26" font-size="5.0" font-weight="normal" fill="#2a2a2a" font-family='"Liberation Sans", sans-serif' text-anchor="end">0.7</text>
<path d="M369.5,175.28 H370.8" stroke="#646464" stroke-width="0.8"/>
<text x="367.80" y="177.12" font-size="5.0" font-weight="normal" fill="#2a2a2a" font-family='"Liberation Sans", sans-serif' text-anchor="end">0.8</text>
<path d="M369.5,166.14 H370.8" stroke="#646464" stroke-width="0.8"/>
<text x="367.80" y="167.98" font-size="5.0" font-weight="normal" fill="#2a2a2a" font-family='"Liberation Sans", sans-serif' text-anchor="end">0.9</text>
<path d="M369.5,157.00 H370.8" stroke="#646464" stroke-width="0.8"/>
<text x="367.80" y="158.84" font-size="5.0" font-weight="normal" fill="#2a2a2a" font-family='"Liberation Sans", sans-serif' text-anchor="end">1.0</text>
<path d="M371.10,248.6 V249.79999999999998" stroke="#646464" stroke-width="0.8"/>
<text x="371.10" y="255.29" font-size="5.0" font-weight="normal" fill="#2a2a2a" font-family='"Liberation Sans", sans-serif' text-anchor="middle">0</text>
<path d="M385.40,248.6 V249.79999999999998" stroke="#646464" stroke-width="0.8"/>
<text x="385.40" y="255.29" font-size="5.0" font-weight="normal" fill="#2a2a2a" font-family='"Liberation Sans", sans-serif' text-anchor="middle">1</text>
<path d="M399.70,248.6 V249.79999999999998" stroke="#646464" stroke-width="0.8"/>
<text x="399.70" y="255.29" font-size="5.0" font-weight="normal" fill="#2a2a2a" font-family='"Liberation Sans", sans-serif' text-anchor="middle">2</text>
<path d="M414.00,248.6 V249.79999999999998" stroke="#646464" stroke-width="0.8"/>
<text x="414.00" y="255.29" font-size="5.0" font-weight="normal" fill="#2a2a2a" font-family='"Liberation Sans", sans-serif' text-anchor="middle">3</text>
<path d="M428.30,248.6 V249.79999999999998" stroke="#646464" stroke-width="0.8"/>
<text x="428.30" y="255.29" font-size="5.0" font-weight="normal" fill="#2a2a2a" font-family='"Liberation Sans", sans-serif' text-anchor="middle">4</text>
<path d="M442.60,248.6 V249.79999999999998" stroke="#646464" stroke-width="0.8"/>
<text x="442.60" y="255.29" font-size="5.0" font-weight="normal" fill="#2a2a2a" font-family='"Liberation Sans", sans-serif' text-anchor="middle">5</text>
<path d="M456.90,248.6 V249.79999999999998" stroke="#646464" stroke-width="0.8"/>
<text x="456.90" y="255.29" font-size="5.0" font-weight="normal" fill="#2a2a2a" font-family='"Liberation Sans", sans-serif' text-anchor="middle">6</text>
<path d="M471.20,248.6 V249.79999999999998" stroke="#646464" stroke-width="0.8"/>
<text x="471.20" y="255.29" font-size="5.0" font-weight="normal" fill="#2a2a2a" font-family='"Liberation Sans", sans-serif' text-anchor="middle">7</text>
<path d="M485.50,248.6 V249.79999999999998" stroke="#646464" stroke-width="0.8"/>
<text x="485.50" y="255.29" font-size="5.0" font-weight="normal" fill="#2a2a2a" font-family='"Liberation Sans", sans-serif' text-anchor="middle">8</text>
<path d="M499.80,248.6 V249.79999999999998" stroke="#646464" stroke-width="0.8"/>
<text x="499.80" y="255.29" font-size="5.0" font-weight="normal" fill="#2a2a2a" font-family='"Liberation Sans", sans-serif' text-anchor="middle">9</text>
<path d="M514.10,248.6 V249.79999999999998" stroke="#646464" stroke-width="0.8"/>
<text x="514.10" y="255.29" font-size="5.0" font-weight="normal" fill="#2a2a2a" font-family='"Liberation Sans", sans-serif' text-anchor="middle">10</text>
<text x="513.90" y="259.15" font-size="4.9" font-weight="bold" fill="#2a2a2a" font-family='"Liberation Sans", sans-serif' text-anchor="end">years</text>
<text transform="translate(351.8,203.9) scale(0.8,1)" font-size="6.3" font-weight="bold" fill="#363636" style="stroke:none" font-family='"Liberation Sans", sans-serif'>p</text>
<polyline points="370.80,248.60 370.80,240.40 372.10,240.00 374.50,239.30 377.20,237.90 378.80,236.00 380.20,233.80 382.30,229.00 384.30,224.70 386.30,222.40 388.40,220.60 391.50,218.20 394.50,216.10 397.50,214.30 400.70,212.80 404.70,211.60 408.80,210.80 414.00,210.00 419.00,209.30 428.00,209.00 491.70,209.00 492.00,208.40 515.30,208.40" fill="none" stroke="#333" stroke-width="0.95" stroke-linejoin="round"/>
<polyline points="370.80,235.20 372.10,234.90 374.00,233.60 376.20,231.80 378.20,228.50 380.20,224.70 382.30,220.50 384.30,216.50 386.80,211.00 389.40,205.30 391.50,204.00 394.50,203.20 398.50,202.20 402.70,201.20 406.80,200.40 410.90,199.80 419.00,199.10 428.00,198.60" fill="none" stroke="#5a5a5a" stroke-width="0.8" stroke-linejoin="round"/>
<polyline points="428.00,198.60 515.30,198.40" fill="none" stroke="#505050" stroke-width="0.8" stroke-dasharray="6.4,1.3,1.1,1.3"/>
<text x="431.00" y="196.50" font-size="5.3" font-weight="bold" fill="#222" font-family='"Liberation Sans", sans-serif' textLength="28.40" lengthAdjust="spacingAndGlyphs">0.53, SE=0.04</text>
<text x="432.00" y="215.10" font-size="5.3" font-weight="bold" fill="#222" font-family='"Liberation Sans", sans-serif' textLength="27.80" lengthAdjust="spacingAndGlyphs">0.42, SE=0.03</text>
<text x="378.00" y="162.49" font-size="5.0" font-weight="bold" fill="#222" font-family='"Liberation Sans", sans-serif' textLength="59.70" lengthAdjust="spacingAndGlyphs">NR/Relapse  p(Gray)&lt;.001</text>
<path d="M358.8,261.1 H372.7" stroke="#4a4a4a" stroke-width="1.05"/>
<path d="M358.8,266.9 H372.7" stroke="#aaa" stroke-width="1.0"/>
<path d="M362.1,266.9 H372.7" stroke="#666" stroke-width="1.0" stroke-dasharray="6.7,1,1.1,0.8,1,1"/>
<text x="376.20" y="263.59" font-size="5.0" font-weight="bold" fill="#222" font-family='"Liberation Sans", sans-serif'>Other  (N=541, 219 events)</text>
<text x="376.20" y="269.39" font-size="5.0" font-weight="bold" fill="#222" font-family='"Liberation Sans", sans-serif'>Complex karyotype  (N=192, 100 events)</text>
</g></svg>
</div></body></html>
